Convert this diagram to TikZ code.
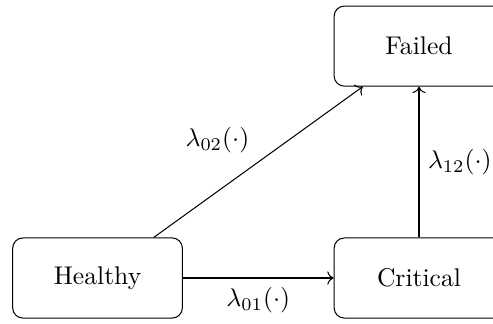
\documentclass[tikz,border=0pt]{standalone}
\usepackage{amsmath,amssymb}
\usepackage{tikz}
\usetikzlibrary{arrows.meta, positioning}
\tikzset{
  state/.style={rectangle, draw, rounded corners, text centered,
                minimum width=2.33cm, minimum height=1.1cm},
  arrow/.style={->},
}

\begin{document}
\begin{tikzpicture}[node distance=2.07cm]
  \useasboundingbox (-1.339,-0.618) rectangle (5.430,3.817);
  \node[state] (healthy) at (0,0) {Healthy};
  \node[state, right=of healthy] (critical) {Critical};
  \node[state, above=of critical] (failed) {Failed};

  \draw[arrow] (healthy) -- node[below]{$\lambda_{01}(\cdot)$} (critical);
  \draw[arrow] (healthy) -- node[above left]{$\lambda_{02}(\cdot)$} (failed);
  \draw[arrow] (critical) -- node[right]{$\lambda_{12}(\cdot)$} (failed);
\end{tikzpicture}
\end{document}
